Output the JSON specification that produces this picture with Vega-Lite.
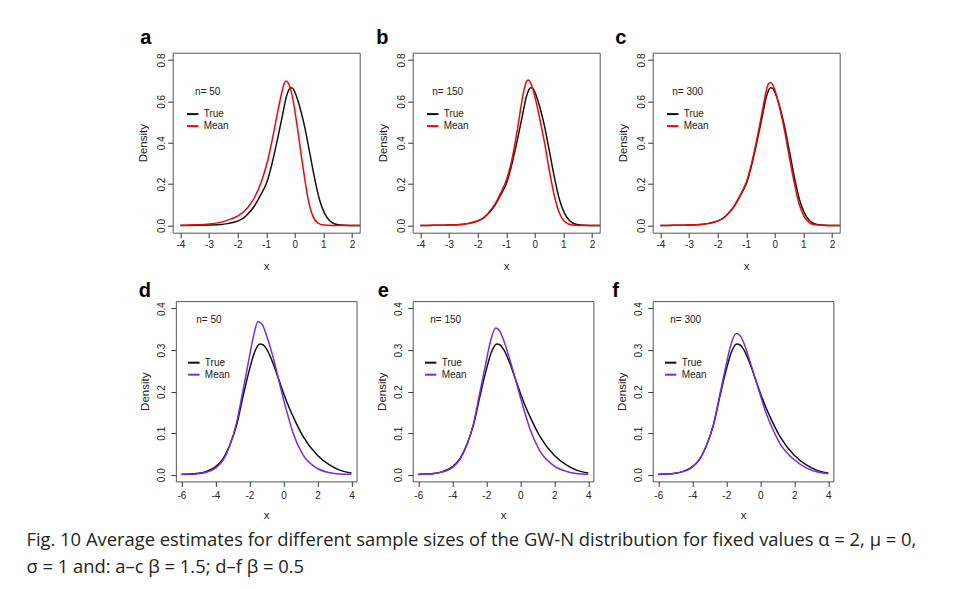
{
  "$schema": "https://vega.github.io/schema/vega-lite/v6.json",
  "background": "white",
  "padding": {"left": 25.7, "top": 26.7, "right": 5, "bottom": 5},
  "config": {
    "font": "Liberation Sans",
    "view": {"stroke": "#555", "strokeWidth": 1},
    "axis": {"domain": false, "grid": false, "ticks": true, "tickSize": 5, "tickColor": "#333", "tickWidth": 1, "labelFont": "Liberation Sans", "labelFontSize": 10, "labelColor": "#222", "titleFont": "Liberation Sans", "titleFontSize": 11.5, "titleFontWeight": "normal", "titleColor": "#222", "labelFlush": false, "labelOverlap": false},
    "axisX": {"labelPadding": 1.7, "titlePadding": 11},
    "axisY": {"labelPadding": 1, "titlePadding": 8, "labelAngle": 270, "labelAlign": "center", "labelBaseline": "bottom"},
    "legend": {"orient": "none", "titleAnchor": "middle", "titleFontWeight": "normal", "titleFontSize": 10, "titleColor": "#222", "labelFontSize": 10, "labelColor": "#222", "symbolType": "stroke", "symbolStrokeWidth": 2, "symbolSize": 130, "labelOffset": 4, "rowPadding": -1, "padding": 0, "titlePadding": 10, "symbolOffset": 0},
    "title": {"anchor": "start", "frame": "group", "baseline": "alphabetic", "fontSize": 20, "fontWeight": "bold", "font": "Liberation Sans", "color": "#000"}
  },
  "datasets": {
    "top": [
      {"p":"T","s":"True","x":-4,"y":0},{"p":"T","s":"True","x":-3.5,"y":0.0005},{"p":"T","s":"True","x":-3,"y":0.002},{"p":"T","s":"True","x":-2.58,"y":0.005},{"p":"T","s":"True","x":-2.3,"y":0.01},{"p":"T","s":"True","x":-2,"y":0.021},{"p":"T","s":"True","x":-1.8,"y":0.035},{"p":"T","s":"True","x":-1.65,"y":0.054},{"p":"T","s":"True","x":-1.41,"y":0.094},{"p":"T","s":"True","x":-1.18,"y":0.151},{"p":"T","s":"True","x":-0.98,"y":0.208},{"p":"T","s":"True","x":-0.83,"y":0.28},{"p":"T","s":"True","x":-0.6,"y":0.42},{"p":"T","s":"True","x":-0.42,"y":0.54},{"p":"T","s":"True","x":-0.3,"y":0.62},{"p":"T","s":"True","x":-0.22,"y":0.652},{"p":"T","s":"True","x":-0.15,"y":0.666},{"p":"T","s":"True","x":-0.08,"y":0.664},{"p":"T","s":"True","x":0,"y":0.645},{"p":"T","s":"True","x":0.16,"y":0.58},{"p":"T","s":"True","x":0.34,"y":0.48},{"p":"T","s":"True","x":0.51,"y":0.36},{"p":"T","s":"True","x":0.69,"y":0.23},{"p":"T","s":"True","x":0.86,"y":0.127},{"p":"T","s":"True","x":1.03,"y":0.062},{"p":"T","s":"True","x":1.21,"y":0.024},{"p":"T","s":"True","x":1.38,"y":0.008},{"p":"T","s":"True","x":1.62,"y":0.002},{"p":"T","s":"True","x":1.9,"y":0},{"p":"T","s":"True","x":2.3,"y":0},
      {"p":"a","s":"Mean","x":-4,"y":0.001},{"p":"a","s":"Mean","x":-3.5,"y":0.003},{"p":"a","s":"Mean","x":-3.16,"y":0.005},{"p":"a","s":"Mean","x":-2.58,"y":0.016},{"p":"a","s":"Mean","x":-2.3,"y":0.028},{"p":"a","s":"Mean","x":-2,"y":0.045},{"p":"a","s":"Mean","x":-1.65,"y":0.086},{"p":"a","s":"Mean","x":-1.41,"y":0.135},{"p":"a","s":"Mean","x":-1.18,"y":0.208},{"p":"a","s":"Mean","x":-0.95,"y":0.313},{"p":"a","s":"Mean","x":-0.77,"y":0.427},{"p":"a","s":"Mean","x":-0.6,"y":0.548},{"p":"a","s":"Mean","x":-0.45,"y":0.645},{"p":"a","s":"Mean","x":-0.38,"y":0.683},{"p":"a","s":"Mean","x":-0.31,"y":0.698},{"p":"a","s":"Mean","x":-0.24,"y":0.69},{"p":"a","s":"Mean","x":-0.15,"y":0.66},{"p":"a","s":"Mean","x":-0.07,"y":0.613},{"p":"a","s":"Mean","x":0.08,"y":0.483},{"p":"a","s":"Mean","x":0.22,"y":0.345},{"p":"a","s":"Mean","x":0.34,"y":0.232},{"p":"a","s":"Mean","x":0.48,"y":0.118},{"p":"a","s":"Mean","x":0.63,"y":0.045},{"p":"a","s":"Mean","x":0.8,"y":0.013},{"p":"a","s":"Mean","x":1.03,"y":0.002},{"p":"a","s":"Mean","x":1.3,"y":0},{"p":"a","s":"Mean","x":2.3,"y":0},
      {"p":"b","s":"Mean","x":-4,"y":0},{"p":"b","s":"Mean","x":-3.5,"y":0.0005},{"p":"b","s":"Mean","x":-3,"y":0.002},{"p":"b","s":"Mean","x":-2.58,"y":0.005},{"p":"b","s":"Mean","x":-2.3,"y":0.011},{"p":"b","s":"Mean","x":-2,"y":0.023},{"p":"b","s":"Mean","x":-1.8,"y":0.037},{"p":"b","s":"Mean","x":-1.65,"y":0.057},{"p":"b","s":"Mean","x":-1.41,"y":0.099},{"p":"b","s":"Mean","x":-1.18,"y":0.16},{"p":"b","s":"Mean","x":-0.98,"y":0.225},{"p":"b","s":"Mean","x":-0.83,"y":0.3},{"p":"b","s":"Mean","x":-0.6,"y":0.47},{"p":"b","s":"Mean","x":-0.5,"y":0.56},{"p":"b","s":"Mean","x":-0.42,"y":0.625},{"p":"b","s":"Mean","x":-0.35,"y":0.67},{"p":"b","s":"Mean","x":-0.28,"y":0.698},{"p":"b","s":"Mean","x":-0.22,"y":0.703},{"p":"b","s":"Mean","x":-0.15,"y":0.69},{"p":"b","s":"Mean","x":-0.08,"y":0.665},{"p":"b","s":"Mean","x":-0.01,"y":0.63},{"p":"b","s":"Mean","x":0.16,"y":0.525},{"p":"b","s":"Mean","x":0.34,"y":0.4},{"p":"b","s":"Mean","x":0.51,"y":0.265},{"p":"b","s":"Mean","x":0.69,"y":0.14},{"p":"b","s":"Mean","x":0.86,"y":0.06},{"p":"b","s":"Mean","x":1.03,"y":0.02},{"p":"b","s":"Mean","x":1.21,"y":0.006},{"p":"b","s":"Mean","x":1.38,"y":0.0015},{"p":"b","s":"Mean","x":1.6,"y":0},{"p":"b","s":"Mean","x":2.3,"y":0},
      {"p":"c","s":"Mean","x":-4,"y":0},{"p":"c","s":"Mean","x":-3.5,"y":0.0005},{"p":"c","s":"Mean","x":-3,"y":0.002},{"p":"c","s":"Mean","x":-2.58,"y":0.005},{"p":"c","s":"Mean","x":-2.3,"y":0.01},{"p":"c","s":"Mean","x":-2,"y":0.022},{"p":"c","s":"Mean","x":-1.8,"y":0.036},{"p":"c","s":"Mean","x":-1.65,"y":0.055},{"p":"c","s":"Mean","x":-1.41,"y":0.096},{"p":"c","s":"Mean","x":-1.18,"y":0.155},{"p":"c","s":"Mean","x":-0.98,"y":0.215},{"p":"c","s":"Mean","x":-0.83,"y":0.29},{"p":"c","s":"Mean","x":-0.6,"y":0.435},{"p":"c","s":"Mean","x":-0.42,"y":0.565},{"p":"c","s":"Mean","x":-0.32,"y":0.637},{"p":"c","s":"Mean","x":-0.22,"y":0.685},{"p":"c","s":"Mean","x":-0.15,"y":0.69},{"p":"c","s":"Mean","x":-0.08,"y":0.682},{"p":"c","s":"Mean","x":-0.01,"y":0.66},{"p":"c","s":"Mean","x":0.16,"y":0.575},{"p":"c","s":"Mean","x":0.34,"y":0.46},{"p":"c","s":"Mean","x":0.51,"y":0.33},{"p":"c","s":"Mean","x":0.69,"y":0.2},{"p":"c","s":"Mean","x":0.86,"y":0.1},{"p":"c","s":"Mean","x":1.03,"y":0.043},{"p":"c","s":"Mean","x":1.21,"y":0.014},{"p":"c","s":"Mean","x":1.38,"y":0.004},{"p":"c","s":"Mean","x":1.62,"y":0.001},{"p":"c","s":"Mean","x":1.9,"y":0},{"p":"c","s":"Mean","x":2.3,"y":0}
    ],
    "bot": [
      {"p":"T","s":"True","x":-6,"y":0.001},{"p":"T","s":"True","x":-5.5,"y":0.002},{"p":"T","s":"True","x":-5.12,"y":0.003},{"p":"T","s":"True","x":-4.53,"y":0.008},{"p":"T","s":"True","x":-4,"y":0.019},{"p":"T","s":"True","x":-3.55,"y":0.039},{"p":"T","s":"True","x":-3.16,"y":0.071},{"p":"T","s":"True","x":-2.76,"y":0.119},{"p":"T","s":"True","x":-2.37,"y":0.19},{"p":"T","s":"True","x":-2.02,"y":0.25},{"p":"T","s":"True","x":-1.69,"y":0.296},{"p":"T","s":"True","x":-1.39,"y":0.315},{"p":"T","s":"True","x":-1.2,"y":0.313},{"p":"T","s":"True","x":-1,"y":0.303},{"p":"T","s":"True","x":-0.61,"y":0.268},{"p":"T","s":"True","x":-0.3,"y":0.232},{"p":"T","s":"True","x":0,"y":0.197},{"p":"T","s":"True","x":0.3,"y":0.165},{"p":"T","s":"True","x":0.57,"y":0.14},{"p":"T","s":"True","x":1.16,"y":0.092},{"p":"T","s":"True","x":2,"y":0.047},{"p":"T","s":"True","x":2.73,"y":0.023},{"p":"T","s":"True","x":3.31,"y":0.011},{"p":"T","s":"True","x":4,"y":0.004},
      {"p":"d","s":"Mean","x":-6,"y":0.0005},{"p":"d","s":"Mean","x":-5.5,"y":0.001},{"p":"d","s":"Mean","x":-5.12,"y":0.002},{"p":"d","s":"Mean","x":-4.53,"y":0.006},{"p":"d","s":"Mean","x":-4,"y":0.016},{"p":"d","s":"Mean","x":-3.55,"y":0.035},{"p":"d","s":"Mean","x":-3.16,"y":0.07},{"p":"d","s":"Mean","x":-2.76,"y":0.125},{"p":"d","s":"Mean","x":-2.37,"y":0.205},{"p":"d","s":"Mean","x":-2.02,"y":0.28},{"p":"d","s":"Mean","x":-1.75,"y":0.336},{"p":"d","s":"Mean","x":-1.5,"y":0.369},{"p":"d","s":"Mean","x":-1.25,"y":0.362},{"p":"d","s":"Mean","x":-1,"y":0.336},{"p":"d","s":"Mean","x":-0.61,"y":0.283},{"p":"d","s":"Mean","x":-0.3,"y":0.232},{"p":"d","s":"Mean","x":0,"y":0.182},{"p":"d","s":"Mean","x":0.3,"y":0.137},{"p":"d","s":"Mean","x":0.57,"y":0.1},{"p":"d","s":"Mean","x":1.16,"y":0.047},{"p":"d","s":"Mean","x":2,"y":0.015},{"p":"d","s":"Mean","x":2.73,"y":0.005},{"p":"d","s":"Mean","x":3.31,"y":0.002},{"p":"d","s":"Mean","x":4,"y":0.001},
      {"p":"e","s":"Mean","x":-6,"y":0.0007},{"p":"e","s":"Mean","x":-5.5,"y":0.0015},{"p":"e","s":"Mean","x":-5.12,"y":0.0025},{"p":"e","s":"Mean","x":-4.53,"y":0.007},{"p":"e","s":"Mean","x":-4,"y":0.017},{"p":"e","s":"Mean","x":-3.55,"y":0.037},{"p":"e","s":"Mean","x":-3.16,"y":0.07},{"p":"e","s":"Mean","x":-2.76,"y":0.122},{"p":"e","s":"Mean","x":-2.37,"y":0.2},{"p":"e","s":"Mean","x":-2.02,"y":0.27},{"p":"e","s":"Mean","x":-1.75,"y":0.322},{"p":"e","s":"Mean","x":-1.45,"y":0.353},{"p":"e","s":"Mean","x":-1.2,"y":0.345},{"p":"e","s":"Mean","x":-1,"y":0.326},{"p":"e","s":"Mean","x":-0.61,"y":0.276},{"p":"e","s":"Mean","x":-0.3,"y":0.232},{"p":"e","s":"Mean","x":0,"y":0.187},{"p":"e","s":"Mean","x":0.3,"y":0.145},{"p":"e","s":"Mean","x":0.57,"y":0.11},{"p":"e","s":"Mean","x":1.16,"y":0.057},{"p":"e","s":"Mean","x":2,"y":0.021},{"p":"e","s":"Mean","x":2.73,"y":0.008},{"p":"e","s":"Mean","x":3.31,"y":0.003},{"p":"e","s":"Mean","x":4,"y":0.001},
      {"p":"f","s":"Mean","x":-6,"y":0.0008},{"p":"f","s":"Mean","x":-5.5,"y":0.0016},{"p":"f","s":"Mean","x":-5.12,"y":0.0027},{"p":"f","s":"Mean","x":-4.53,"y":0.0075},{"p":"f","s":"Mean","x":-4,"y":0.018},{"p":"f","s":"Mean","x":-3.55,"y":0.038},{"p":"f","s":"Mean","x":-3.16,"y":0.071},{"p":"f","s":"Mean","x":-2.76,"y":0.12},{"p":"f","s":"Mean","x":-2.37,"y":0.195},{"p":"f","s":"Mean","x":-2.02,"y":0.262},{"p":"f","s":"Mean","x":-1.75,"y":0.31},{"p":"f","s":"Mean","x":-1.42,"y":0.34},{"p":"f","s":"Mean","x":-1.2,"y":0.335},{"p":"f","s":"Mean","x":-1,"y":0.32},{"p":"f","s":"Mean","x":-0.61,"y":0.273},{"p":"f","s":"Mean","x":-0.3,"y":0.232},{"p":"f","s":"Mean","x":0,"y":0.192},{"p":"f","s":"Mean","x":0.3,"y":0.153},{"p":"f","s":"Mean","x":0.57,"y":0.125},{"p":"f","s":"Mean","x":1.16,"y":0.075},{"p":"f","s":"Mean","x":2,"y":0.036},{"p":"f","s":"Mean","x":2.73,"y":0.016},{"p":"f","s":"Mean","x":3.31,"y":0.007},{"p":"f","s":"Mean","x":4,"y":0.0025}
    ]
  },
  "title": {
    "text": ["Fig. 10  Average estimates for different sample sizes of the GW-N distribution for fixed values α = 2, μ = 0,", "σ = 1 and: a–c β = 1.5; d–f β = 0.5"],
    "orient": "bottom", "anchor": "start", "frame": "group", "dx": -146.3, "offset": 10.2, "baseline": "top", "lineHeight": 26.3,
    "font": "Open Sans", "fontSize": 18.4, "fontWeight": "normal", "color": "#231f20"
  },
  "columns": 3,
  "spacing": {"row": 68.4, "column": 53},
  "bounds": "flush",
  "center": true,
  "resolve": {"scale": {"color": "independent", "x": "independent", "y": "independent"}, "legend": {"color": "independent"}},
  "concat": [
    {
      "width": 187, "height": 180,
      "data": {"name": "top"},
      "title": {"text": "a", "dx": -32.5, "offset": 4.6},
      "transform": [{"filter": "datum.p == 'T' || datum.p == 'a'"}],
      "mark": {"type": "line", "interpolate": "monotone", "strokeWidth": 1.5, "clip": true},
      "encoding": {
        "x": {"field": "x", "type": "quantitative", "scale": {"domain": [-4.27, 2.27], "nice": false, "zero": false}, "axis": {"values": [-4,-3,-2,-1,0,1,2], "title": "x", "labelExpr": "toString(datum.value)"}},
        "y": {"field": "y", "type": "quantitative", "scale": {"domain": [-0.035, 0.835], "nice": false, "zero": false}, "axis": {"values": [0,0.2,0.4,0.6,0.8], "title": "Density", "labelExpr": "format(datum.value, '.1f')"}},
        "color": {"field": "s", "type": "nominal", "scale": {"domain": ["True","Mean"], "range": ["#111111","#ff0000"]}, "legend": {"title": "n= 50", "legendX": 13, "legendY": 34.4}}
      }
    },
    {
      "width": 187, "height": 180,
      "data": {"name": "top"},
      "title": {"text": "b", "dx": -36.5, "offset": 4.6},
      "transform": [{"filter": "datum.p == 'T' || datum.p == 'b'"}],
      "mark": {"type": "line", "interpolate": "monotone", "strokeWidth": 1.5, "clip": true},
      "encoding": {
        "x": {"field": "x", "type": "quantitative", "scale": {"domain": [-4.27, 2.27], "nice": false, "zero": false}, "axis": {"values": [-4,-3,-2,-1,0,1,2], "title": "x", "labelExpr": "toString(datum.value)"}},
        "y": {"field": "y", "type": "quantitative", "scale": {"domain": [-0.035, 0.835], "nice": false, "zero": false}, "axis": {"values": [0,0.2,0.4,0.6,0.8], "title": "Density", "labelExpr": "format(datum.value, '.1f')"}},
        "color": {"field": "s", "type": "nominal", "scale": {"domain": ["True","Mean"], "range": ["#111111","#ff0000"]}, "legend": {"title": "n= 150", "legendX": 13, "legendY": 34.4}}
      }
    },
    {
      "width": 187, "height": 180,
      "data": {"name": "top"},
      "title": {"text": "c", "dx": -37.5, "offset": 4.6},
      "transform": [{"filter": "datum.p == 'T' || datum.p == 'c'"}],
      "mark": {"type": "line", "interpolate": "monotone", "strokeWidth": 1.5, "clip": true},
      "encoding": {
        "x": {"field": "x", "type": "quantitative", "scale": {"domain": [-4.27, 2.27], "nice": false, "zero": false}, "axis": {"values": [-4,-3,-2,-1,0,1,2], "title": "x", "labelExpr": "toString(datum.value)"}},
        "y": {"field": "y", "type": "quantitative", "scale": {"domain": [-0.035, 0.835], "nice": false, "zero": false}, "axis": {"values": [0,0.2,0.4,0.6,0.8], "title": "Density", "labelExpr": "format(datum.value, '.1f')"}},
        "color": {"field": "s", "type": "nominal", "scale": {"domain": ["True","Mean"], "range": ["#111111","#ff0000"]}, "legend": {"title": "n= 300", "legendX": 13, "legendY": 34.4}}
      }
    },
    {
      "width": 180.7, "height": 180.3,
      "data": {"name": "bot"},
      "title": {"text": "d", "dx": -37, "offset": 0.5},
      "transform": [{"filter": "datum.p == 'T' || datum.p == 'd'"}],
      "mark": {"type": "line", "interpolate": "monotone", "strokeWidth": 1.5, "clip": true},
      "encoding": {
        "x": {"field": "x", "type": "quantitative", "scale": {"domain": [-6.33, 4.3], "nice": false, "zero": false}, "axis": {"values": [-6,-4,-2,0,2,4], "title": "x", "labelPadding": 3.7, "titlePadding": 9.2, "labelExpr": "toString(datum.value)"}},
        "y": {"field": "y", "type": "quantitative", "scale": {"domain": [-0.016, 0.418], "nice": false, "zero": false}, "axis": {"values": [0,0.1,0.2,0.3,0.4], "title": "Density", "labelPadding": 4.3, "titlePadding": 5.7, "labelExpr": "format(datum.value, '.1f')"}},
        "color": {"field": "s", "type": "nominal", "scale": {"domain": ["True","Mean"], "range": ["#111111","#6f2cf2"]}, "legend": {"title": "n= 50", "legendX": 11, "legendY": 13.6, "titlePadding": 31}}
      }
    },
    {
      "width": 180.7, "height": 180.3,
      "data": {"name": "bot"},
      "title": {"text": "e", "dx": -35, "offset": 0.5},
      "transform": [{"filter": "datum.p == 'T' || datum.p == 'e'"}],
      "mark": {"type": "line", "interpolate": "monotone", "strokeWidth": 1.5, "clip": true},
      "encoding": {
        "x": {"field": "x", "type": "quantitative", "scale": {"domain": [-6.33, 4.3], "nice": false, "zero": false}, "axis": {"values": [-6,-4,-2,0,2,4], "title": "x", "labelPadding": 3.7, "titlePadding": 9.2, "labelExpr": "toString(datum.value)"}},
        "y": {"field": "y", "type": "quantitative", "scale": {"domain": [-0.016, 0.418], "nice": false, "zero": false}, "axis": {"values": [0,0.1,0.2,0.3,0.4], "title": "Density", "labelPadding": 4.3, "titlePadding": 5.7, "labelExpr": "format(datum.value, '.1f')"}},
        "color": {"field": "s", "type": "nominal", "scale": {"domain": ["True","Mean"], "range": ["#111111","#6f2cf2"]}, "legend": {"title": "n= 150", "legendX": 11, "legendY": 13.6, "titlePadding": 31}}
      }
    },
    {
      "width": 180.7, "height": 180.3,
      "data": {"name": "bot"},
      "title": {"text": "f", "dx": -40.5, "offset": 0.5},
      "transform": [{"filter": "datum.p == 'T' || datum.p == 'f'"}],
      "mark": {"type": "line", "interpolate": "monotone", "strokeWidth": 1.5, "clip": true},
      "encoding": {
        "x": {"field": "x", "type": "quantitative", "scale": {"domain": [-6.33, 4.3], "nice": false, "zero": false}, "axis": {"values": [-6,-4,-2,0,2,4], "title": "x", "labelPadding": 3.7, "titlePadding": 9.2, "labelExpr": "toString(datum.value)"}},
        "y": {"field": "y", "type": "quantitative", "scale": {"domain": [-0.016, 0.418], "nice": false, "zero": false}, "axis": {"values": [0,0.1,0.2,0.3,0.4], "title": "Density", "labelPadding": 4.3, "titlePadding": 5.7, "labelExpr": "format(datum.value, '.1f')"}},
        "color": {"field": "s", "type": "nominal", "scale": {"domain": ["True","Mean"], "range": ["#111111","#6f2cf2"]}, "legend": {"title": "n= 300", "legendX": 11, "legendY": 13.6, "titlePadding": 31}}
      }
    }
  ]
}
